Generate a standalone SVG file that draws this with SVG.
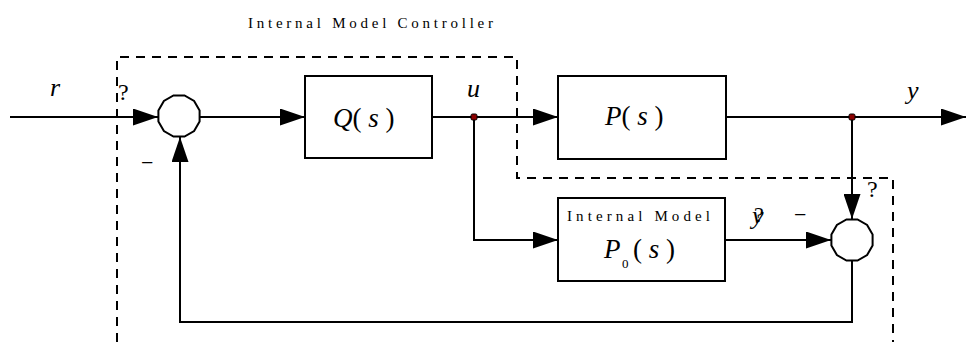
<svg xmlns="http://www.w3.org/2000/svg" width="966" height="342" viewBox="0 0 966 342">
<defs>
<marker id="arr" viewBox="0 0 25 17" refX="25" refY="8.5" markerWidth="25" markerHeight="17" markerUnits="userSpaceOnUse" orient="auto">
<path d="M0,0 L25,8.5 L0,17 Z" fill="#000"/>
</marker>
<polygon id="sumshape" points="20.6,5.5 15.1,15.1 5.5,20.6 -5.5,20.6 -15.1,15.1 -20.6,5.5 -20.6,-5.5 -15.1,-15.1 -5.5,-20.6 5.5,-20.6 15.1,-15.1 20.6,-5.5"/>
<style>
.ln{fill:none;stroke:#000;stroke-width:2}
.box{fill:#fff;stroke:#000;stroke-width:2}
.dash{fill:none;stroke:#000;stroke-width:2;stroke-dasharray:9 7}
.t{font-family:"Liberation Serif","Times New Roman",serif;fill:#000}
.it{font-style:italic}
.dot{fill:#8b0000;stroke:#000;stroke-width:1}
</style>
</defs>
<rect width="966" height="342" fill="#fff"/>
<g id="boundary">
<path class="dash" d="M117,342 L117,57 L517,57 L517,178 L893,178 L893,342"/>
<text class="t" x="248" y="28" font-size="15" textLength="245" lengthAdjust="spacing">Internal Model Controller</text>
</g>
<g id="connectors">
<line class="ln" x1="10" y1="117" x2="158" y2="117" marker-end="url(#arr)"/>
<line class="ln" x1="200" y1="117" x2="305" y2="117" marker-end="url(#arr)"/>
<line class="ln" x1="432" y1="117" x2="558" y2="117" marker-end="url(#arr)"/>
<line class="ln" x1="726" y1="117" x2="966" y2="117" marker-end="url(#arr)"/>
<line class="ln" x1="852" y1="117" x2="852" y2="219" marker-end="url(#arr)"/>
<polyline class="ln" points="474,117 474,240 558,240" marker-end="url(#arr)"/>
<line class="ln" x1="725" y1="240" x2="831" y2="240" marker-end="url(#arr)"/>
<polyline class="ln" points="852,261 852,322 180,322 180,137" marker-end="url(#arr)"/>
</g>
<g id="sum1">
<use href="#sumshape" class="box" transform="translate(179,116)"/>
<text class="t" x="118" y="100" font-size="24">?</text>
<text class="t" x="141" y="170" font-size="22">−</text>
</g>
<g id="Q">
<rect class="box" x="305" y="76" width="127" height="82"/>
<text class="t" x="333" y="127" font-size="27"><tspan class="it">Q</tspan>( <tspan class="it">s</tspan> )</text>
</g>
<g id="P">
<rect class="box" x="558" y="76" width="168" height="83"/>
<text class="t" x="605" y="125" font-size="27"><tspan class="it">P</tspan>( <tspan class="it">s</tspan> )</text>
</g>
<g id="P0">
<rect class="box" x="558" y="198" width="167" height="83"/>
<text class="t" x="567" y="221" font-size="15" textLength="143" lengthAdjust="spacing">Internal Model</text>
<text class="t it" x="604" y="258" font-size="27">P</text>
<text class="t" x="622" y="268" font-size="13">0</text>
<text class="t" x="633" y="258" font-size="27">( <tspan class="it">s</tspan> )</text>
</g>
<g id="sum2">
<use href="#sumshape" class="box" transform="translate(852,240)"/>
<text class="t" x="867" y="197" font-size="24">?</text>
<text class="t" x="794" y="222" font-size="22">−</text>
</g>
<g id="junctions">
<rect class="dot" x="471" y="114" width="6" height="6" rx="1.5"/>
<rect class="dot" x="849" y="114" width="6" height="6" rx="1.5"/>
</g>
<g id="labels">
<text class="t it" x="50" y="96" font-size="26">r</text>
<text class="t it" x="467" y="97" font-size="26">u</text>
<text class="t it" x="907" y="99" font-size="26">y</text>
<text class="t it" x="752" y="224" font-size="26">y</text>
<text class="t" x="754" y="222" font-size="22">?</text>
</g>
</svg>
